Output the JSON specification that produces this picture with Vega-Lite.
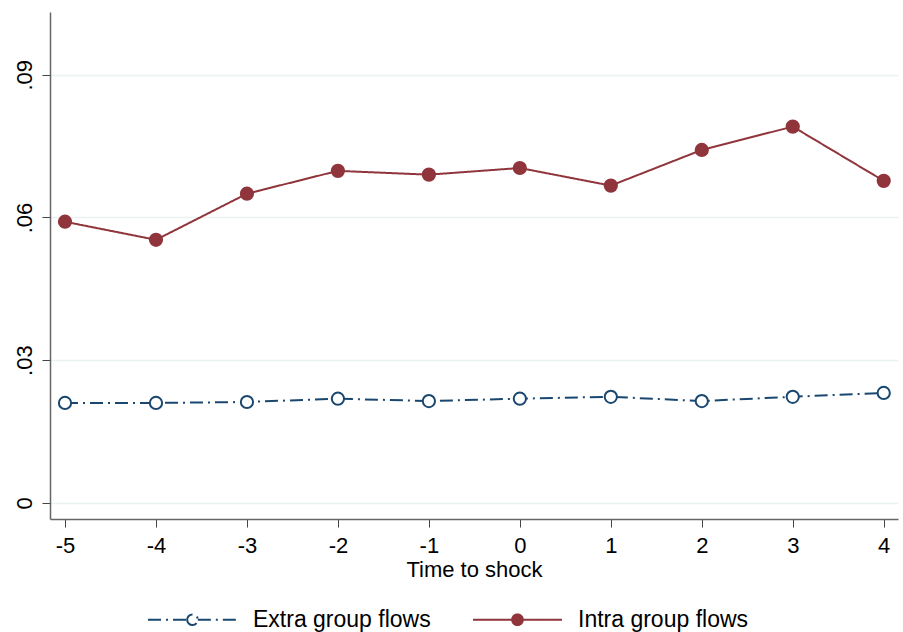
{
  "$schema": "https://vega.github.io/schema/vega-lite/v6.json",
  "width": 848,
  "height": 507,
  "autosize": "none",
  "padding": {"left": 50, "top": 12, "right": 5, "bottom": 113},
  "background": "white",
  "config": {
    "font": "Liberation Sans",
    "view": {"stroke": null},
    "axis": {"labelColor": "black", "titleColor": "black", "labelFont": "Liberation Sans", "titleFont": "Liberation Sans"},
    "legend": {"padding": 0}
  },
  "data": {"values": [
    {"t": -5, "series": "Extra group flows", "v": 0.0210},
    {"t": -4, "series": "Extra group flows", "v": 0.0210},
    {"t": -3, "series": "Extra group flows", "v": 0.0212},
    {"t": -2, "series": "Extra group flows", "v": 0.0219},
    {"t": -1, "series": "Extra group flows", "v": 0.0214},
    {"t": 0, "series": "Extra group flows", "v": 0.0219},
    {"t": 1, "series": "Extra group flows", "v": 0.0223},
    {"t": 2, "series": "Extra group flows", "v": 0.0214},
    {"t": 3, "series": "Extra group flows", "v": 0.0223},
    {"t": 4, "series": "Extra group flows", "v": 0.0231},
    {"t": -5, "series": "Intra group flows", "v": 0.0591},
    {"t": -4, "series": "Intra group flows", "v": 0.0553},
    {"t": -3, "series": "Intra group flows", "v": 0.0650},
    {"t": -2, "series": "Intra group flows", "v": 0.0698},
    {"t": -1, "series": "Intra group flows", "v": 0.0690},
    {"t": 0, "series": "Intra group flows", "v": 0.0704},
    {"t": 1, "series": "Intra group flows", "v": 0.0667},
    {"t": 2, "series": "Intra group flows", "v": 0.0742},
    {"t": 3, "series": "Intra group flows", "v": 0.0791},
    {"t": 4, "series": "Intra group flows", "v": 0.0677}
  ]},
  "encoding": {
    "x": {
      "field": "t", "type": "quantitative",
      "scale": {"domain": [-5.165, 4.157], "nice": false, "zero": false},
      "axis": {
        "values": [-5, -4, -3, -2, -1, 0, 1, 2, 3, 4],
        "labelExpr": "datum.value < 0 ? '-' + abs(datum.value) : '' + datum.value",
        "title": "Time to shock", "titleFontSize": 22, "titleFontWeight": "normal", "titlePadding": 3,
        "labelFontSize": 22, "labelPadding": 8, "tickSize": 8, "tickColor": "#444", "domainColor": "#666",
        "domainWidth": 1.5, "grid": false, "labelFlush": false
      }
    },
    "y": {
      "field": "v", "type": "quantitative",
      "scale": {"domain": [-0.0034, 0.1032], "nice": false, "zero": false},
      "axis": {
        "values": [0, 0.03, 0.06, 0.09],
        "labelExpr": "datum.value == 0 ? '0' : replace(format(datum.value, '.2f'), '0.', '.')",
        "title": null, "labelAngle": -90, "labelAlign": "center", "labelBaseline": "bottom",
        "labelFontSize": 22, "labelPadding": 6, "tickSize": 8, "tickColor": "#444", "domainColor": "#666",
        "domainWidth": 1.5, "grid": true, "gridColor": "#eaf2f3", "gridWidth": 1.5, "labelFlush": false
      }
    },
    "color": {
      "field": "series", "type": "nominal",
      "scale": {"domain": ["Extra group flows", "Intra group flows"], "range": ["#1a476f", "#90353b"]},
      "legend": {
        "title": null, "orient": "none", "legendX": 97, "legendY": 562, "direction": "horizontal",
        "labelFontSize": 23, "labelColor": "black", "labelLimit": 400,
        "symbolType": "M-1,0H-0.12M0.12,0H1M-0.12,0A0.12,0.12 0 1,0 0.12,0A0.12,0.12 0 1,0 -0.12,0",
        "symbolSize": 7921, "symbolStrokeWidth": 2, "columnPadding": 38, "labelOffset": 15
      }
    }
  },
  "layer": [
    {
      "mark": {"type": "line", "strokeWidth": 2},
      "encoding": {
        "strokeDash": {
          "field": "series", "type": "nominal",
          "scale": {"domain": ["Extra group flows", "Intra group flows"], "range": [[13, 5, 2, 5], [1, 0]]},
          "legend": {
            "title": null, "orient": "none", "legendX": 97, "legendY": 562, "direction": "horizontal",
            "labelFontSize": 23, "labelColor": "black", "labelLimit": 400,
            "symbolType": "M-1,0H-0.12M0.12,0H1M-0.12,0A0.12,0.12 0 1,0 0.12,0A0.12,0.12 0 1,0 -0.12,0",
            "symbolSize": 7921, "symbolStrokeWidth": 2, "columnPadding": 38, "labelOffset": 15
          }
        }
      }
    },
    {
      "mark": {"type": "point", "shape": "circle", "size": 150, "strokeWidth": 2, "opacity": 1},
      "encoding": {
        "fill": {
          "field": "series", "type": "nominal",
          "scale": {"domain": ["Extra group flows", "Intra group flows"], "range": ["white", "#90353b"]},
          "legend": {
            "title": null, "orient": "none", "legendX": 97, "legendY": 562, "direction": "horizontal",
            "labelFontSize": 23, "labelColor": "black", "labelLimit": 400,
            "symbolType": "M-1,0H-0.12M0.12,0H1M-0.12,0A0.12,0.12 0 1,0 0.12,0A0.12,0.12 0 1,0 -0.12,0",
            "symbolSize": 7921, "symbolStrokeWidth": 2, "columnPadding": 38, "labelOffset": 15
          }
        }
      }
    }
  ]
}
